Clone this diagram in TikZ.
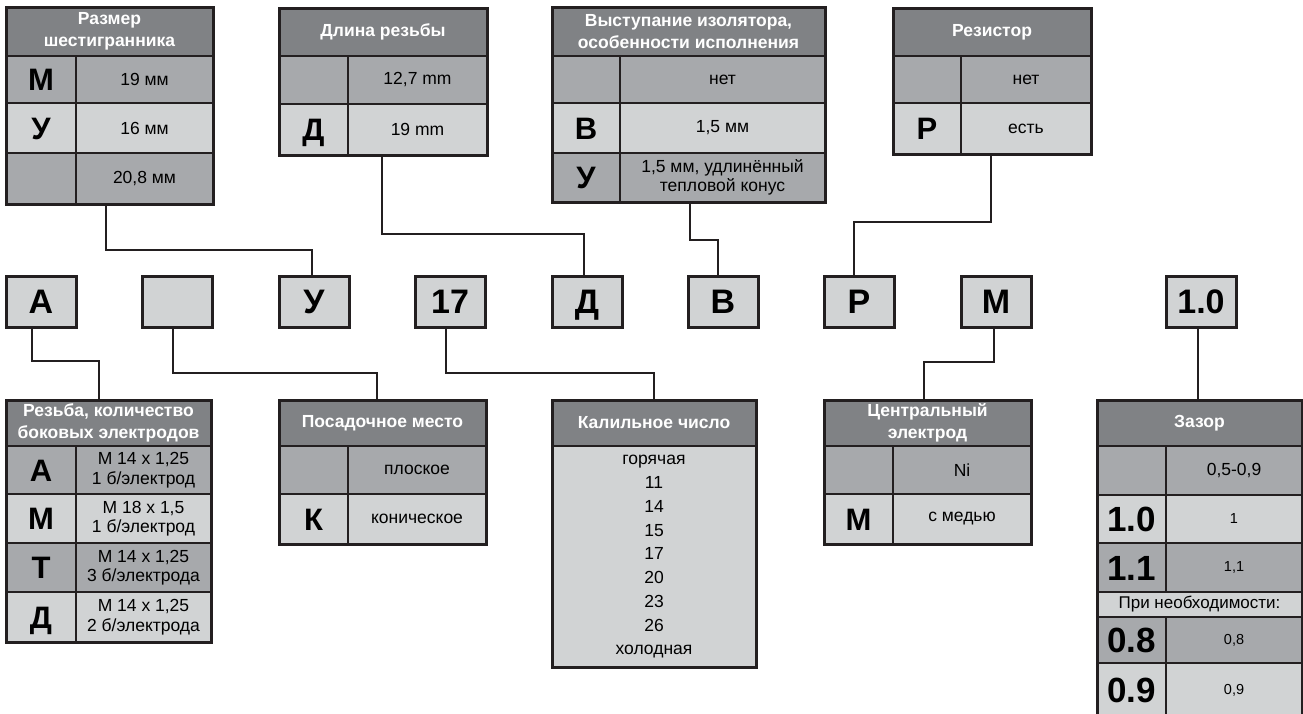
\documentclass[tikz,border=0pt]{standalone}
\usepackage{fontspec}
\setmainfont{Liberation Sans}
\definecolor{linec}{HTML}{231F20}
\definecolor{hdrc}{HTML}{808285}
\definecolor{medc}{HTML}{A7A9AC}
\definecolor{lgtc}{HTML}{D1D3D4}
\newcommand\zHdr{\bfseries\fontsize{17.5}{22}\selectfont}
\newcommand\zBody{\fontsize{17.5}{19.5}\selectfont}
\newcommand\zSmall{\fontsize{14.5}{16}\selectfont}
\newcommand\zBig{\bfseries\fontsize{31}{31}\selectfont}
\newcommand\zNum{\bfseries\fontsize{35}{35}\selectfont}
\newcommand\zCode{\bfseries\fontsize{34}{34}\selectfont}
\tikzset{
  cellbase/.style={draw=linec, line width=1.8pt, inner sep=0pt, outer sep=0pt, anchor=north west, align=center},
  hdr/.style={cellbase, fill=hdrc, text=white, font=\zHdr},
  med/.style={cellbase, fill=medc, font=\zBody},
  lgt/.style={cellbase, fill=lgtc, font=\zBody},
  bigmed/.style={cellbase, fill=medc, font=\zBig, text height=22.2pt, text depth=0pt},
  biglgt/.style={cellbase, fill=lgtc, font=\zBig, text height=22.2pt, text depth=0pt},
  nummed/.style={cellbase, fill=medc, font=\zNum, text height=25pt, text depth=0pt},
  numlgt/.style={cellbase, fill=lgtc, font=\zNum, text height=25pt, text depth=0pt},
  frame/.style={draw=linec, line width=3pt, inner sep=0pt, outer sep=0pt, anchor=north west},
  codebox/.style={draw=linec, line width=3pt, fill=lgtc, inner sep=0pt, outer sep=0pt, anchor=north west, minimum width=70pt, minimum height=51pt, font=\zCode, text height=24.3pt, text depth=0pt},
  conn/.style={draw=linec, line width=2.2pt},
  thinconn/.style={draw=linec, line width=1.4pt},
  sz/.style 2 args={minimum width=#1, minimum height=#2},
}
\begin{document}
\begin{tikzpicture}[x=1pt, y=-1pt]
\fill[white] (0,0) rectangle (1303,713);
\useasboundingbox (0,0) rectangle (1303,713);

% ---- Table 1: Размер шестигранника
\node[hdr, sz={207}{49}] (t1h) at (6,7) {Размер\\шестигранника};
\node[bigmed, sz={70}{47}] (t1a) at (6,56) {М};
\node[med, sz={137}{47}] (t1b) at (76,56) {19 мм};
\node[biglgt, sz={70}{50}] (t1c) at (6,103) {У};
\node[lgt, sz={137}{50}] (t1d) at (76,103) {16 мм};
\node[med, sz={70}{51}] (t1e) at (6,153) {};
\node[med, sz={137}{51}] (t1f) at (76,153) {20,8 мм};
\node[frame, sz={207}{197}] (t1) at (6,7) {};

% ---- Table 2: Длина резьбы
\node[hdr, sz={208}{48}] (t2h) at (279,8) {Длина резьбы};
\node[med, sz={69}{48}] (t2a) at (279,56) {};
\node[med, sz={139}{48}] (t2b) at (348,56) {12,7 mm};
\node[biglgt, sz={69}{51}] (t2c) at (279,104) {Д};
\node[lgt, sz={139}{51}] (t2d) at (348,104) {19 mm};
\node[frame, sz={208}{147}] (t2) at (279,8) {};

% ---- Table 3: Выступание изолятора
\node[hdr, sz={273}{49}] (t3h) at (552,7) {Выступание изолятора,\\особенности исполнения};
\node[med, sz={68}{47}] (t3a) at (552,56) {};
\node[med, sz={205}{47}] (t3b) at (620,56) {нет};
\node[biglgt, sz={68}{50}] (t3c) at (552,103) {В};
\node[lgt, sz={205}{50}] (t3d) at (620,103) {1,5 мм};
\node[bigmed, sz={68}{49}] (t3e) at (552,153) {У};
\node[med, sz={205}{49}] (t3f) at (620,153) {1,5 мм, удлинённый\\тепловой конус};
\node[frame, sz={273}{195}] (t3) at (552,7) {};

% ---- Table 4: Резистор
\node[hdr, sz={198}{48}] (t4h) at (893,8) {Резистор};
\node[med, sz={68}{47}] (t4a) at (893,56) {};
\node[med, sz={130}{47}] (t4b) at (961,56) {нет};
\node[biglgt, sz={68}{51}] (t4c) at (893,103) {Р};
\node[lgt, sz={130}{51}] (t4d) at (961,103) {есть};
\node[frame, sz={198}{146}] (t4) at (893,8) {};

% ---- Code boxes
\node[codebox] (bA) at (6,276) {А};
\node[codebox] (bX) at (142,276) {};
\node[codebox] (bU) at (279,276) {У};
\node[codebox] (b17) at (415,276) {17};
\node[codebox] (bD) at (552,276) {Д};
\node[codebox] (bV) at (688,276) {В};
\node[codebox] (bR) at (824,276) {Р};
\node[codebox] (bM) at (961,276) {М};
\node[codebox] (b10) at (1166,276) {1.0};

% ---- Table 5: Резьба
\node[hdr, sz={205}{46}] (t5h) at (6,400) {Резьба, количество\\боковых электродов};
\node[bigmed, sz={70}{48}] (t5a) at (6,446) {А};
\node[med, sz={135}{48}] (t5b) at (76,446) {М 14 x 1,25\\1 б/электрод};
\node[biglgt, sz={70}{49}] (t5c) at (6,494) {М};
\node[lgt, sz={135}{49}] (t5d) at (76,494) {М 18 x 1,5\\1 б/электрод};
\node[bigmed, sz={70}{49}] (t5e) at (6,543) {Т};
\node[med, sz={135}{49}] (t5f) at (76,543) {М 14 x 1,25\\3 б/электрода};
\node[biglgt, sz={70}{50}] (t5g) at (6,592) {Д};
\node[lgt, sz={135}{50}] (t5h2) at (76,592) {М 14 x 1,25\\2 б/электрода};
\node[frame, sz={205}{242}] (t5) at (6,400) {};

% ---- Table 6: Посадочное место
\node[hdr, sz={207}{46}] (t6h) at (279,400) {Посадочное место};
\node[med, sz={69}{48}] (t6a) at (279,446) {};
\node[med, sz={138}{48}] (t6b) at (348,446) {плоское};
\node[biglgt, sz={69}{50}] (t6c) at (279,494) {К};
\node[lgt, sz={138}{50}] (t6d) at (348,494) {коническое};
\node[frame, sz={207}{144}] (t6) at (279,400) {};

% ---- Table 7: Калильное число
\node[hdr, sz={204}{46}] (t7h) at (552,400) {Калильное число};
\node[lgt, sz={204}{221}] (t7a) at (552,446) {};
\node[font=\fontsize{17.5}{23.75}\selectfont, align=center, inner sep=0pt] (t7l) at (654,557)
  {горячая\\11\\14\\15\\17\\20\\23\\26\\холодная};
\node[frame, sz={204}{267}] (t7) at (552,400) {};

% ---- Table 8: Центральный электрод
\node[hdr, sz={207}{46}] (t8h) at (824,400) {Центральный\\электрод};
\node[med, sz={69}{48}] (t8a) at (824,446) {};
\node[med, sz={138}{48}] (t8b) at (893,446) {Ni};
\node[biglgt, sz={69}{50}] (t8c) at (824,494) {М};
\node[lgt, sz={138}{50}] (t8d) at (893,494) {с медью};
\node[frame, sz={207}{144}] (t8) at (824,400) {};

% ---- Table 9: Зазор
\node[hdr, sz={205}{46}] (t9h) at (1097,400) {Зазор};
\node[med, sz={69}{49}] (t9a) at (1097,446) {};
\node[med, sz={136}{49}] (t9b) at (1166,446) {0,5-0,9};
\node[numlgt, sz={69}{48}] (t9c) at (1097,495) {1.0};
\node[lgt, sz={136}{48}, font=\zSmall] (t9d) at (1166,495) {1};
\node[nummed, sz={69}{49}] (t9e) at (1097,543) {1.1};
\node[med, sz={136}{49}, font=\zSmall] (t9f) at (1166,543) {1,1};
\node[lgt, sz={205}{25}, font=\fontsize{17}{18}\selectfont] (t9g) at (1097,592) {При необходимости:};
\node[nummed, sz={69}{46}] (t9i) at (1097,617) {0.8};
\node[med, sz={136}{46}, font=\zSmall] (t9j) at (1166,617) {0,8};
\node[numlgt, sz={69}{54}] (t9k) at (1097,663) {0.9};
\node[lgt, sz={136}{54}, font=\zSmall] (t9l) at (1166,663) {0,9};
\node[frame, sz={205}{317}] (t9) at (1097,400) {};

% ---- Connectors (top)
\draw[conn] ([xshift=-3.5pt]t1.south) -- ++(0,46) -| ([xshift=-2pt]bU.north);
\draw[conn] ([xshift=-1pt]t2.south) -- ++(0,79) -| ([xshift=-3pt]bD.north);
\draw[thinconn] ([xshift=1.5pt]t3.south) -- ++(0,38) -| ([xshift=-5pt]bV.north);
\draw[conn] ([xshift=-1pt]t4.south) -- ++(0,68) -| ([xshift=-5pt]bR.north);

% ---- Connectors (bottom)
\draw[thinconn] ([xshift=-9pt]bA.south) -- ++(0,34) -| ([xshift=-9.5pt]t5.north);
\draw[conn] ([xshift=-4pt]bX.south) -- ++(0,46) -| ([xshift=-5.5pt]t6.north);
\draw[conn] ([xshift=-4pt]b17.south) -- ++(0,46) -| (t7.north);
\draw[thinconn] ([xshift=-2pt]bM.south) -- ++(0,35) -| ([xshift=-3.5pt]t8.north);
\draw[conn] ([xshift=-3pt]b10.south) -- ([xshift=-1.5pt]t9.north);
\end{tikzpicture}
\end{document}
